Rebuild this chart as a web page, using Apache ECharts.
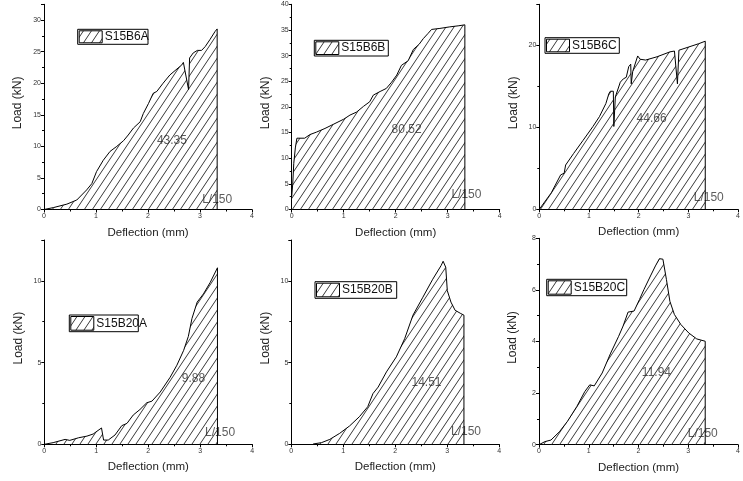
<!DOCTYPE html>
<html><head><meta charset="utf-8">
<script src="https://cdn.jsdelivr.net/npm/echarts@6/dist/echarts.min.js"></script>
<style>html,body{margin:0;padding:0;background:#fff}#c{width:743px;height:481px}</style>
</head><body><div id="c"></div>
<script>
// ---- data ----
const specimens = ['S15B6A','S15B6B','S15B6C','S15B20A','S15B20B','S15B20C'];
const areaValues = ['43.35','80.52','44.66','9.88','14.51','11.94'];
const limitLabel = 'L/150';

const deflA = [0,0.18,0.44,0.63,0.82,0.92,1.01,1.14,1.27,1.40,1.53,1.62,1.72,1.85,1.91,2.01,2.10,2.17,2.29,2.42,2.52,2.65,2.68,2.78,2.80,2.87,2.95,3.03,3.10,3.19,3.29,3.33,3.33];
const loadA = [0,0.3,0.85,1.5,3.1,4.1,6.0,7.8,9.2,10.0,10.9,11.8,12.9,13.9,15.2,16.8,18.4,18.7,20.0,21.3,22.0,22.9,23.3,19.0,24.0,24.8,25.2,25.2,25.8,26.9,28.2,28.6,0];

const deflB = [0,0.02,0.04,0.07,0.10,0.25,0.35,0.48,0.64,0.80,1.00,1.12,1.25,1.38,1.50,1.57,1.70,1.82,1.92,2.02,2.11,2.24,2.34,2.45,2.53,2.62,2.69,2.85,3.04,3.20,3.33,3.33];
const loadB = [2.5,5.0,9.0,12.0,13.9,13.9,14.6,15.1,15.8,16.6,17.6,18.4,19.0,20.1,21.0,22.3,23.0,23.6,24.8,26.2,28.1,29.0,31.2,32.2,33.3,34.3,35.1,35.3,35.6,35.8,36.0,0];

const deflC = [0,0.24,0.43,0.50,0.53,0.69,0.88,1.08,1.21,1.34,1.40,1.43,1.49,1.50,1.53,1.63,1.69,1.75,1.80,1.84,1.85,1.88,1.98,2.03,2.14,2.37,2.63,2.72,2.78,2.81,3.01,3.21,3.34,3.34];
const loadC = [0,2.0,4.2,4.4,5.4,6.8,8.4,10.1,11.3,12.9,14.1,14.4,14.4,10.1,13.7,15.5,15.9,16.1,17.4,17.7,15.3,16.8,18.7,18.3,18.2,18.6,19.2,19.3,15.3,19.4,19.8,20.2,20.5,0];

const deflD = [0,0.17,0.40,0.49,0.66,0.82,0.94,1.10,1.14,1.23,1.36,1.49,1.59,1.71,1.84,1.97,2.07,2.23,2.42,2.55,2.68,2.77,2.84,2.94,3.06,3.19,3.33,3.33];
const loadD = [0,0.1,0.3,0.24,0.4,0.5,0.63,1.0,0.26,0.26,0.57,1.14,1.28,1.79,2.13,2.54,2.64,3.2,4.1,4.84,5.75,6.6,7.7,8.7,9.2,9.9,10.8,0];

const deflE = [0.42,0.58,0.74,0.93,1.12,1.31,1.47,1.57,1.67,1.83,2.02,2.18,2.34,2.53,2.72,2.88,2.92,2.97,3.00,3.07,3.15,3.26,3.32,3.32];
const loadE = [0.02,0.1,0.3,0.67,1.12,1.69,2.3,3.1,3.5,4.43,5.35,6.46,7.9,9.0,10.1,10.93,11.2,10.83,9.4,8.7,8.2,8.0,7.9,0];

const deflF = [0,0.12,0.24,0.41,0.57,0.76,0.92,1.02,1.11,1.27,1.44,1.60,1.69,1.79,1.91,2.02,2.11,2.24,2.34,2.42,2.49,2.56,2.63,2.72,2.85,3.01,3.17,3.34,3.34];
const loadF = [0,0.12,0.18,0.5,0.9,1.48,2.06,2.32,2.28,2.78,3.55,4.2,4.6,5.14,5.18,5.63,6.02,6.54,6.93,7.21,7.19,6.41,5.56,5.05,4.66,4.33,4.1,4.01,0];

const yMax = [32.5,40,25,12.5,12.5,8];
const yInterval = [5,5,10,5,5,2];
const xTicks = [0,1,2,3,4];

// ---- layout / style ----
const defl = [deflA,deflB,deflC,deflD,deflE,deflF];
const load = [loadA,loadB,loadC,loadD,loadE,loadF];
const grids = [
  {left:44, top:4.3, width:208, height:205.2},
  {left:291.7, top:4.3, width:208, height:205.2},
  {left:539.3, top:4.3, width:208, height:205},
  {left:44.3, top:240, width:208, height:204.3},
  {left:291.3, top:240, width:208, height:204.3},
  {left:539, top:238.3, width:208, height:206.4}
];
const valuePos = [[2.46,10.9],[2.21,15.6],[2.26,11.0],[2.87,4.0],[2.6,3.8],[2.36,2.79]];
const limitPos = [[3.33,1.5],[3.36,2.8],[3.41,1.4],[3.38,0.7],[3.36,0.8],[3.29,0.44]];
const legendBoxes = [
  [77.7,29.3,70.3,15],[314.3,40.3,74,15.7],[545,37.7,74.3,15.6],
  [69.3,315,69,16.7],[315,281.7,81.7,16.6],[546.7,279.3,80,16.4]
];
const FONT = '"Liberation Sans", Arial, sans-serif';

function hatch(){
  const c = document.createElement('canvas');
  c.width = 8; c.height = 12;
  const g = c.getContext('2d');
  g.clearRect(0,0,8,12);
  g.strokeStyle = '#222'; g.lineWidth = 0.9;
  for (const o of [-8,0,8]) { g.beginPath(); g.moveTo(o,12); g.lineTo(o+8,0); g.stroke(); }
  return c;
}
const pat = {image: hatch(), repeat: 'repeat'};

const chart = echarts.init(document.getElementById('c'), null, {renderer:'canvas'});
const xAxis = [], yAxis = [], series = [], graphic = [];
for (let i=0;i<6;i++){
  xAxis.push({
    type:'value', gridIndex:i, min:xTicks[0], max:xTicks[xTicks.length-1], interval:1,
    name:'Deflection (mm)', nameLocation:'middle', nameGap:17,
    nameTextStyle:{fontFamily:FONT, fontSize:11.5, color:'#222'},
    axisLine:{show:true, onZero:false, lineStyle:{color:'#000', width:1}},
    axisTick:{show:true, inside:false, length:3, lineStyle:{color:'#000'}},
    minorTick:{show:true, splitNumber:2, length:2, lineStyle:{color:'#000'}},
    axisLabel:{fontFamily:FONT, fontSize:7, color:'#333', margin:3},
    splitLine:{show:false}
  });
  yAxis.push({
    type:'value', gridIndex:i, min:0, max:yMax[i], interval:yInterval[i],
    name:'Load (kN)', nameLocation:'middle', nameGap:20,
    nameTextStyle:{fontFamily:FONT, fontSize:12, color:'#222', padding:[0,0,0,8]},
    axisLine:{show:true, onZero:false, lineStyle:{color:'#000', width:1}},
    axisTick:{show:true, inside:false, length:3, lineStyle:{color:'#000'}},
    minorTick:{show:true, splitNumber:2, length:2, lineStyle:{color:'#000'}},
    axisLabel:{fontFamily:FONT, fontSize:7, color:'#333', margin:3,
      showMaxLabel: (yMax[i] % yInterval[i]) === 0},
    splitLine:{show:false}
  });
  series.push({
    type:'scatter', xAxisIndex:i, yAxisIndex:i, z:1, silent:true,
    symbolSize:1, itemStyle:{color:'rgba(0,0,0,0)'},
    label:{show:true, position:'inside', fontFamily:FONT, fontSize:12, color:'#333',
      formatter:p=>p.data[2]},
    data:[[valuePos[i][0],valuePos[i][1],areaValues[i]],[limitPos[i][0],limitPos[i][1],limitLabel]]
  });
  series.push({
    type:'line', xAxisIndex:i, yAxisIndex:i, z:2, showSymbol:false, symbol:'none',
    lineStyle:{color:'#000', width:1},
    areaStyle:{color:pat, opacity:1},
    data: defl[i].map((x,k)=>[x, load[i][k]])
  });
  const b = legendBoxes[i];
  graphic.push({type:'rect', shape:{x:b[0],y:b[1],width:b[2],height:b[3]},
    style:{fill:'#fff', stroke:'#000', lineWidth:1}, z:10});
  graphic.push({type:'rect', shape:{x:b[0]+1.5,y:b[1]+1.5,width:23,height:b[3]-3},
    style:{fill:pat, stroke:'#000', lineWidth:1}, z:11});
  graphic.push({type:'text', x:b[0]+27, y:b[1]+b[3]/2,
    style:{text:specimens[i], fontFamily:FONT, fontSize:12, fill:'#111', textVerticalAlign:'middle'}, z:12});
}
chart.setOption({
  animation:false, backgroundColor:'#fff',
  grid: grids.map(g=>Object.assign({containLabel:false}, g)),
  xAxis, yAxis, series, graphic
});
</script></body></html>
